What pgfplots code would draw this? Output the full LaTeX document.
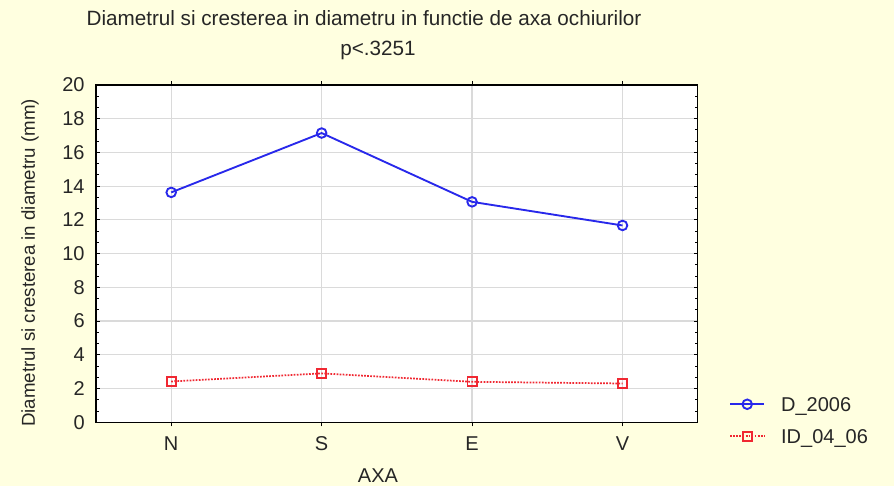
\documentclass[border=0pt]{standalone}
\usepackage{pgfplots}
\pgfplotsset{compat=1.18}
\usepackage{fontspec}
\setmainfont{Liberation Sans}
\definecolor{bgyel}{RGB}{255,255,224}
\definecolor{myblue}{RGB}{40,40,235}
\definecolor{myred}{RGB}{240,40,50}
\definecolor{gridgray}{RGB}{218,218,218}
\begin{document}
\begin{tikzpicture}
\fill[bgyel] (0pt,0pt) rectangle (670.5pt,364.5pt);
\useasboundingbox (0pt,0pt) rectangle (670.5pt,364.5pt);
\begin{axis}[
  at={(72pt,47.78pt)}, anchor=south west,
  scale only axis, width=451.3pt, height=253pt,
  xmin=-0.5, xmax=3.5, ymin=0, ymax=20,
  xtick={0,1,2,3}, xticklabels={N,S,E,V},
  ytick={0,2,...,20},
  minor y tick num=2,
  grid=major,
  major grid style={gridgray, line width=0.9pt},
  axis line style={black, line width=0.9pt},
  axis background/.style={fill=white},
  tick style={black, line width=0.7pt},
  xtick align=outside,
  ytick align=inside,
  major tick length=3pt, minor tick length=2pt,
  tick label style={font=\fontsize{15}{18}\selectfont, text=black!85},
  /pgf/number format/assume math mode=true,
  yticklabel style={xshift=-5pt},
  xticklabel style={yshift=-4pt},
  legend style={draw=none, fill=none, at={(1.052,0.006)}, anchor=west,
     font=\fontsize{15}{18}\selectfont, text=black!85,
     row sep=13pt, column sep=12pt, inner sep=0pt,
     nodes={inner sep=0pt, text height=11pt, text depth=0pt}},
  legend cell align=left,
  legend image code/.code={\draw[mark repeat=2,mark phase=2] plot coordinates {(0pt,0pt)(12.75pt,0pt)(25.5pt,0pt)};},
]
\addplot[myblue, line width=1.4pt, mark=o, mark size=3.6pt, mark options={solid, line width=1.4pt, fill=white}]
  coordinates {(0,13.63) (1,17.15) (2,13.07) (3,11.67)};
\addlegendentry{D\_2006}
\addplot[myred, line width=1.3pt, densely dotted, mark=square, mark size=3.4pt, mark options={solid, line width=1.4pt, fill=white}]
  coordinates {(0,2.42) (1,2.9) (2,2.4) (3,2.3)};
\addlegendentry{ID\_04\_06}
\end{axis}
\node[font=\fontsize{15.5}{18}\selectfont, text=black!85] at (273pt,351pt) {Diametrul si cresterea in diametru in functie de axa ochiurilor};
\node[font=\fontsize{15.5}{18}\selectfont, text=black!85] at (283.5pt,327pt) {p<.3251};
\node[font=\fontsize{15}{18}\selectfont, text=black!85] at (283.5pt,7.5pt) {AXA};
\node[font=\fontsize{14}{17}\selectfont, text=black!85, rotate=90] at (22.5pt,167.25pt) {Diametrul si cresterea in diametru (mm)};
\end{tikzpicture}
\end{document}
